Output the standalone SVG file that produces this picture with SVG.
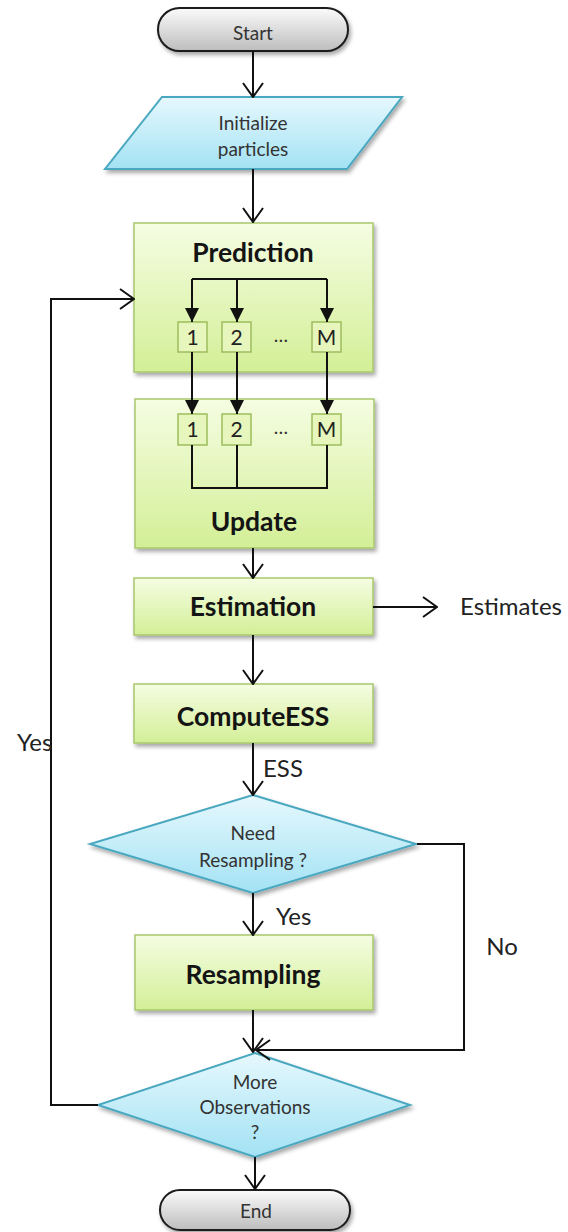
<svg xmlns="http://www.w3.org/2000/svg" width="568" height="1232" viewBox="0 0 568 1232">
  <defs>
    <linearGradient id="gGreen" x1="0" y1="0" x2="0" y2="1">
      <stop offset="0" stop-color="#f5fde2"/>
      <stop offset="1" stop-color="#d3ef97"/>
    </linearGradient>
    <linearGradient id="gBlue" x1="0" y1="0" x2="0" y2="1">
      <stop offset="0" stop-color="#e6f8fd"/>
      <stop offset="1" stop-color="#a3e2f4"/>
    </linearGradient>
    <linearGradient id="gGrey" x1="0" y1="0" x2="0" y2="1">
      <stop offset="0" stop-color="#fbfbfb"/>
      <stop offset="1" stop-color="#bdbdbd"/>
    </linearGradient>
    <filter id="shadow" x="-10%" y="-10%" width="125%" height="130%">
      <feGaussianBlur in="SourceAlpha" stdDeviation="2"/>
      <feOffset dx="2" dy="3"/>
      <feComponentTransfer><feFuncA type="linear" slope="0.35"/></feComponentTransfer>
      <feMerge><feMergeNode/><feMergeNode in="SourceGraphic"/></feMerge>
    </filter>
    <marker id="open" viewBox="0 0 16 22" markerWidth="16" markerHeight="22" refX="15" refY="11" orient="auto" markerUnits="userSpaceOnUse">
      <path d="M1,1 L15,11 L1,21" fill="none" stroke="#111" stroke-width="2"/>
    </marker>
    <marker id="solid" viewBox="0 0 14 14" markerWidth="14" markerHeight="14" refX="14" refY="7" orient="auto" markerUnits="userSpaceOnUse">
      <path d="M0,0 L14,7 L0,14 Z" fill="#111"/>
    </marker>
  </defs>
  <style>
    .green { fill: url(#gGreen); stroke: #a8c86c; stroke-width: 1.5; filter: url(#shadow); }
    .small { fill: #e6f6bd; stroke: #9dbd5c; stroke-width: 1.5; }
    .blue { fill: url(#gBlue); stroke: #4aa8c0; stroke-width: 2; filter: url(#shadow); }
    .term { fill: url(#gGrey); stroke: #1a1a1a; stroke-width: 2; filter: url(#shadow); }
    .line { fill: none; stroke: #111; stroke-width: 2; }
    .arrow { fill: none; stroke: #111; stroke-width: 2; marker-end: url(#open); }
    .farrow { fill: none; stroke: #111; stroke-width: 2; marker-end: url(#solid); }
    text { font-family: Lato, "Open Sans", "Liberation Sans", sans-serif; fill: #262626; text-anchor: middle; }
    .bold { font-weight: bold; font-size: 26.5px; fill: #141414; }
    .lbl { font-size: 19px; fill: #333; }
    .num { font-size: 21px; fill: #222; }
    .side { font-size: 24px; fill: #222; }
    .start { text-anchor: start; }
  </style>

  <g id="start">
    <rect class="term" x="158" y="8" width="190" height="43" rx="21.5"/>
    <text class="lbl" x="253" y="40">Start</text>
  </g>

  <g id="init">
    <polygon class="blue" points="162,97 402,97 347,169 105,169"/>
    <text class="lbl" x="253" y="130">Initialize</text>
    <text class="lbl" x="253" y="156">particles</text>
  </g>

  <g id="prediction">
    <rect class="green" x="134" y="223" width="239" height="149"/>
    <text class="bold" x="253" y="262">Prediction</text>
    <rect class="small" x="178" y="322" width="29" height="30"/>
    <text class="num" x="192.5" y="345">1</text>
    <rect class="small" x="222" y="322" width="29" height="30"/>
    <text class="num" x="236.5" y="345">2</text>
    <text class="lbl" x="281" y="342">…</text>
    <rect class="small" x="312" y="322" width="29" height="30"/>
    <text class="num" x="326.5" y="345">M</text>
  </g>

  <g id="update">
    <rect class="green" x="135" y="399" width="239" height="149"/>
    <rect class="small" x="178" y="414" width="29" height="31"/>
    <text class="num" x="192.5" y="437">1</text>
    <rect class="small" x="222" y="414" width="29" height="31"/>
    <text class="num" x="236.5" y="437">2</text>
    <text class="lbl" x="281" y="434">…</text>
    <rect class="small" x="312" y="414" width="29" height="31"/>
    <text class="num" x="326.5" y="437">M</text>
    <text class="bold" x="254" y="531">Update</text>
  </g>

  <g id="estimation">
    <rect class="green" x="134" y="578" width="239" height="57"/>
    <text class="bold" x="253" y="616">Estimation</text>
  </g>

  <g id="compute-ess">
    <rect class="green" x="134" y="684" width="239" height="59"/>
    <text class="bold" x="253" y="726">ComputeESS</text>
  </g>

  <g id="need-resampling">
    <polygon class="blue" points="253,795 416,844 253,893 90,844"/>
    <text class="lbl" x="253" y="840">Need</text>
    <text class="lbl" x="253" y="867">Resampling ?</text>
  </g>

  <g id="resampling">
    <rect class="green" x="135" y="935" width="238" height="75"/>
    <text class="bold" x="253" y="984">Resampling</text>
  </g>

  <g id="more-observations">
    <polygon class="blue" points="255,1053 410,1105 255,1157 98,1105"/>
    <text class="lbl" x="255" y="1089">More</text>
    <text class="lbl" x="255" y="1114">Observations</text>
    <text class="lbl" x="255" y="1139">?</text>
  </g>

  <g id="end">
    <rect class="term" x="160" y="1190" width="190" height="40" rx="20"/>
    <text class="lbl" x="256" y="1218">End</text>
  </g>

  <!-- connectors, drawn last so the particle lines sit on top of the boxes -->
  <g id="connectors">
    <path class="arrow" d="M253,51 V97"/>
    <path class="arrow" d="M253,169 V222"/>
    <!-- fan-out inside Prediction -->
    <path class="line" d="M192,279 H327"/>
    <path class="farrow" d="M192,279 V322"/>
    <path class="farrow" d="M237,279 V322"/>
    <path class="farrow" d="M327,279 V322"/>
    <!-- particle paths from Prediction to Update -->
    <path class="farrow" d="M192,352 V414"/>
    <path class="farrow" d="M237,352 V414"/>
    <path class="farrow" d="M327,352 V414"/>
    <!-- merge inside Update -->
    <path class="line" d="M192,445 V488 H327 V445 M237,445 V488"/>
    <path class="arrow" d="M253,548 V578"/>
    <path class="arrow" d="M373,607 H437"/>
    <path class="arrow" d="M253,635 V684"/>
    <path class="arrow" d="M253,743 V795"/>
    <path class="arrow" d="M253,893 V935"/>
    <path class="arrow" d="M253,1010 V1052"/>
    <path class="arrow" d="M417,844 H464 V1050 H256"/>
    <path class="arrow" d="M98,1105 H51 V299 H134"/>
    <path class="arrow" d="M255,1157 V1189"/>
    <text class="side start" x="263" y="777">ESS</text>
    <text class="side start" x="276" y="925">Yes</text>
    <text class="side" x="502" y="955">No</text>
    <text class="side start" x="17" y="751">Yes</text>
    <text class="side start" x="460" y="615">Estimates</text>
  </g>
</svg>
